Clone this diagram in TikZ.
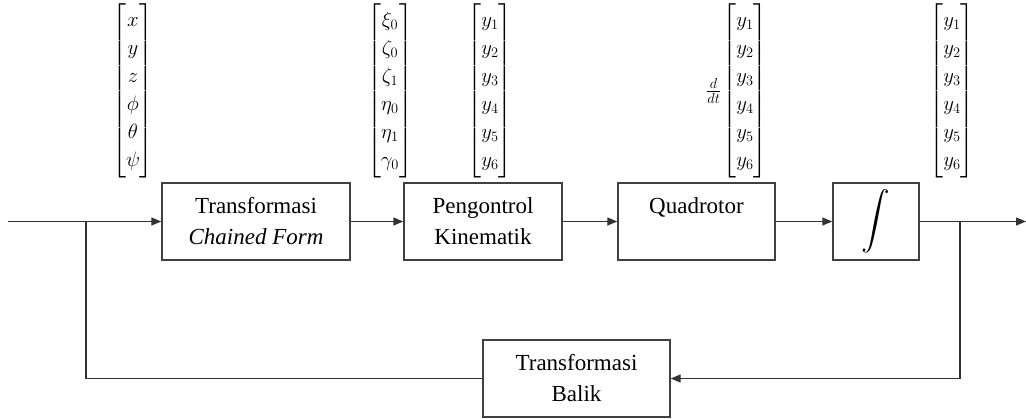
\documentclass[tikz,border=0pt]{standalone}
\usepackage{amsmath}
\usepackage{fontspec}
\setmainfont{Liberation Serif}
\usetikzlibrary{arrows.meta}
\begin{document}
\begin{tikzpicture}[x=1pt,y=-1pt,
  blk/.style={draw=black!75,line width=1.4pt,minimum height=77pt,align=center,
    font=\fontsize{23}{31}\selectfont,inner sep=0pt},
  vec/.style={inner sep=0pt,font=\fontsize{22}{28}\selectfont},
  conn/.style={line width=1.3pt,draw=black!80},
  arr/.style={conn,-{Triangle[length=10pt,width=8pt]}}]
\useasboundingbox (0,0) rectangle (1026,418);
% blocks
\node[blk,minimum width=188pt] (tf) at (256,221.5) {Transformasi\\\textit{Chained Form}};
\node[blk,minimum width=158pt] (pk) at (483,221.5) {Pengontrol\\Kinematik};
\node[blk,minimum width=157pt] (qr) at (696.5,221.5) {Quadrotor\\~};
\node[blk,minimum width=86pt] (it) at (876,221.5) {\scalebox{1.15}{$\displaystyle\int$}};
\node[blk,minimum width=187pt] (tb) at (576.5,378.5) {Transformasi\\Balik};
% vectors
\node[vec] (v1) at (133,91) {$\begin{bmatrix}x\\y\\z\\\phi\\\theta\\\psi\end{bmatrix}$};
\node[vec] (v2) at (390,91) {$\begin{bmatrix}\xi_0\\\zeta_0\\\zeta_1\\\eta_0\\\eta_1\\\gamma_0\end{bmatrix}$};
\node[vec] (v3) at (490,91) {$\begin{bmatrix}y_1\\y_2\\y_3\\y_4\\y_5\\y_6\end{bmatrix}$};
\node[vec] (v4) at (745,91) {$\begin{bmatrix}y_1\\y_2\\y_3\\y_4\\y_5\\y_6\end{bmatrix}$};
\node[inner sep=1pt,font=\fontsize{21}{24}\selectfont,anchor=east] (ddt) at (v4.west) {$\frac{d}{dt}$};
\node[vec] (v5) at (952,91) {$\begin{bmatrix}y_1\\y_2\\y_3\\y_4\\y_5\\y_6\end{bmatrix}$};
% coordinates
\coordinate (in) at (8,221.5);
\coordinate (j1) at (86,221.5);
\coordinate (j2) at (960,221.5);
\coordinate (out) at (1026,221.5);
\coordinate (c1) at (86,378.5);
\coordinate (c2) at (960,378.5);
% connectors
\draw[arr] (in) -- (tf.west);
\draw[arr] (tf.east) -- (pk.west);
\draw[arr] (pk.east) -- (qr.west);
\draw[arr] (qr.east) -- (it.west);
\draw[arr] (it.east) -- (out);
\draw[arr] (j2) -- (c2) -- (tb.east);
\draw[conn] (tb.west) -- (c1) -- (j1);
\end{tikzpicture}
\end{document}
